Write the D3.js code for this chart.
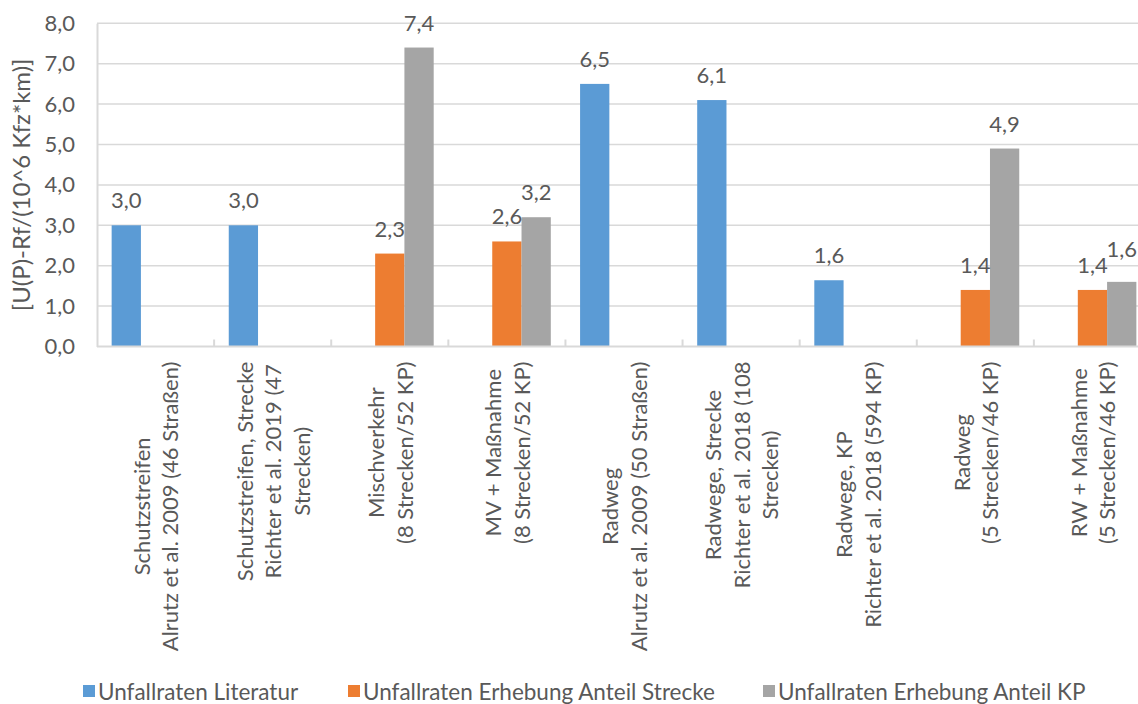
<!DOCTYPE html>
<html>
<head>
<meta charset="utf-8">
<script src="https://cdn.jsdelivr.net/npm/d3@7"></script>
<style>
  html, body { margin: 0; padding: 0; background: #fff; }
  svg { display: block; }
  text { font-family: Lato, "Open Sans", sans-serif; fill: #595959; }
</style>
</head>
<body>
<svg id="chart" width="1138" height="704"></svg>
<script>
// Category labels (each entry is one label, split into its lines)
const categories = [
  ["Schutzstreifen", "Alrutz et al. 2009 (46 Straßen)"],
  ["Schutzstreifen, Strecke", "Richter et al. 2019 (47", "Strecken)"],
  ["Mischverkehr", "(8 Strecken/52 KP)"],
  ["MV + Maßnahme", "(8 Strecken/52 KP)"],
  ["Radweg", "Alrutz et al. 2009 (50 Straßen)"],
  ["Radwege, Strecke", "Richter et al. 2018 (108", "Strecken)"],
  ["Radwege, KP", "Richter et al. 2018 (594 KP)"],
  ["Radweg", "(5 Strecken/46 KP)"],
  ["RW + Maßnahme", "(5 Strecken/46 KP)"]
];

const seriesNames = [
  "Unfallraten Literatur",
  "Unfallraten Erhebung Anteil Strecke",
  "Unfallraten Erhebung Anteil KP"
];

// Accident rates [U(P)-Rf/(10^6 Kfz*km)]; null = no value for that category
const literatur      = [3.0, 3.0, null, null, 6.5, 6.1, 1.64, null, null];
const anteilStrecke  = [null, null, 2.3, 2.6, null, null, null, 1.4, 1.4];
const anteilKP       = [null, null, 7.4, 3.2, null, null, null, 4.9, 1.6];

const yTicks = [0, 1, 2, 3, 4, 5, 6, 7, 8];
const colors = ["#5b9bd5", "#ed7d31", "#a5a5a5"];

const allSeries = [literatur, anteilStrecke, anteilKP];

const svg = d3.select("#chart");
const FONT = 22;

const plot = { left: 97, right: 1151, top: 23.3, bottom: 346.5 };

const x = d3.scaleBand()
  .domain(d3.range(categories.length))
  .range([plot.left, plot.right])
  .paddingInner(0).paddingOuter(0);

const xInner = d3.scaleBand()
  .domain(d3.range(allSeries.length))
  .range([0, x.bandwidth()])
  .paddingInner(0).paddingOuter(0.5);

const y = d3.scaleLinear().domain([0, 8]).range([plot.bottom, plot.top]);

const fmt = v => d3.format(".1f")(v).replace(".", ",");

// Horizontal gridlines
svg.append("g")
  .selectAll("line")
  .data(yTicks.slice(1))
  .join("line")
  .attr("x1", plot.left).attr("x2", plot.right)
  .attr("y1", d => y(d)).attr("y2", d => y(d))
  .attr("stroke", "#d9d9d9").attr("stroke-width", 1.5);

// Y axis
const yAxis = d3.axisLeft(y).tickValues(yTicks).tickSize(0).tickPadding(22).tickFormat(fmt);
const gy = svg.append("g").attr("transform", `translate(${plot.left},0)`).call(yAxis);
gy.select(".domain").attr("stroke", "#d9d9d9").attr("stroke-width", 2);
gy.selectAll("text")
  .style("font-family", "Lato, sans-serif")
  .attr("font-size", FONT).attr("fill", "#595959");

// Bars
allSeries.forEach((vals, s) => {
  const data = vals.map((v, i) => ({ i, v })).filter(d => d.v !== null);
  svg.append("g")
    .selectAll("rect")
    .data(data)
    .join("rect")
    .attr("x", d => x(d.i) + xInner(s))
    .attr("width", xInner.bandwidth())
    .attr("y", d => y(d.v))
    .attr("height", d => y(0) - y(d.v))
    .attr("fill", colors[s]);
});

// X axis line with inside ticks at category boundaries
const xAxisG = svg.append("g");
xAxisG.append("line")
  .attr("x1", plot.left).attr("x2", plot.right)
  .attr("y1", y(0)).attr("y2", y(0))
  .attr("stroke", "#d9d9d9").attr("stroke-width", 2);
xAxisG.selectAll("line.tick")
  .data(d3.range(1, categories.length))
  .join("line")
  .attr("class", "tick")
  .attr("x1", d => x(d)).attr("x2", d => x(d))
  .attr("y1", y(0)).attr("y2", y(0) - 7)
  .attr("stroke", "#d9d9d9").attr("stroke-width", 2);

// Data labels
const labelOffset = { 8: { 2: 8 } }; // raise the KP label where two labels would collide
allSeries.forEach((vals, s) => {
  const data = vals.map((v, i) => ({ i, v })).filter(d => d.v !== null);
  svg.append("g")
    .selectAll("text")
    .data(data)
    .join("text")
    .attr("x", d => x(d.i) + xInner(s) + xInner.bandwidth() / 2)
    .attr("y", d => y(d.v) - 17 - ((labelOffset[d.i] && labelOffset[d.i][s]) || 0))
    .attr("text-anchor", "middle")
    .attr("font-size", FONT)
    .attr("fill", "#404040")
    .text(d => fmt(d.v));
});

// Category labels, rotated, lines centred on each other
const LINE_H = 28.5;
const catG = svg.append("g");
categories.forEach((lines, i) => {
  const g = catG.append("g")
    .attr("transform", `translate(${x(i) + x.bandwidth() / 2},${y(0) + 15}) rotate(-90)`);
  const t = g.selectAll("text")
    .data(lines)
    .join("text")
    .attr("font-size", FONT)
    .attr("text-anchor", "middle")
    .attr("dominant-baseline", "central")
    .attr("y", (d, k) => (k - (lines.length - 1) / 2) * LINE_H)
    .text(d => d);
  let maxLen = 0;
  t.each(function () { maxLen = Math.max(maxLen, this.getComputedTextLength()); });
  t.attr("x", -maxLen / 2);
});

// Y axis title
svg.append("text")
  .attr("transform", `translate(20,${(plot.top + plot.bottom) / 2}) rotate(-90)`)
  .attr("text-anchor", "middle")
  .attr("dominant-baseline", "central")
  .attr("font-size", 24)
  .text("[U(P)-Rf/(10^6 Kfz*km)]");

// Legend
const legendX = [83, 348, 763];
const legend = svg.append("g");
seriesNames.forEach((name, s) => {
  legend.append("rect")
    .attr("x", legendX[s]).attr("y", 685)
    .attr("width", 12).attr("height", 12)
    .attr("fill", colors[s]);
  legend.append("text")
    .attr("x", legendX[s] + 15).attr("y", 691)
    .attr("dominant-baseline", "central")
    .attr("font-size", 22.5)
    .text(name);
});
</script>
</body>
</html>
